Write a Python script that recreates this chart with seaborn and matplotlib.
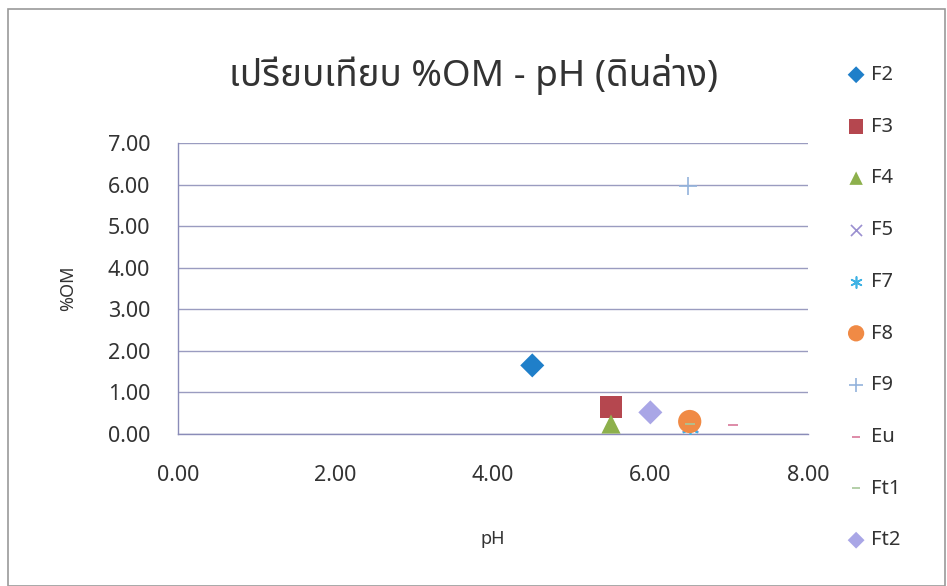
import numpy as np
import pandas as pd
import matplotlib
matplotlib.use("Agg")
import matplotlib.pyplot as plt
import seaborn as sns

# series (pH, %OM)
series = ["F2", "F3", "F4", "F5", "F7", "F8", "F9", "Eu", "Ft1", "Ft2"]
ph = [4.50, 5.50, 5.50, 6.50, 6.50, 6.50, 6.48, 7.05, 6.50, 6.00]
om = [1.65, 0.65, 0.24, 0.25, 0.15, 0.30, 5.97, 0.22, 0.25, 0.52]

colors = ["#1f7fc9", "#b5474f", "#8db04c", "#9a8fd0", "#3fb2e4", "#f08a45",
          "#93b3dc", "#d8789a", "#a7c79a", "#a9a6e6"]
markers = ["D", "s", "^", "x", (6, 2, 0), "o", "+", "_", "_", "D"]
sizes = [150, 230, 190, 130, 130, 280, 180, 60, 60, 150]

df = pd.DataFrame({"series": series, "pH": ph, "OM": om})

sns.set_style("white")
plt.rcParams["font.family"] = ["Noto Sans Thai", "Loma", "Garuda", "Tlwg Typo", "Norasi",
                               "Lato", "DejaVu Sans"]

fig = plt.figure(figsize=(9.47, 5.86), dpi=100)
ax = fig.add_axes([0.188, 0.2594, 0.665, 0.4966])

for s, c, m, sz in zip(series, colors, markers, sizes):
    sub = df[df["series"] == s]
    line_art = m in ["x", "+", "_", (6, 2, 0)]
    sns.scatterplot(data=sub, x="pH", y="OM", ax=ax, color=c, marker=m, s=sz,
                    label=s, linewidth=1.2 if line_art else 0,
                    edgecolor=c if line_art else "none", zorder=3)

ax.set_xlim(0, 8)
ax.set_ylim(0, 7)
ax.set_xticks(np.arange(0, 9, 2))
ax.set_yticks(np.arange(0, 8, 1))
ax.xaxis.set_major_formatter(matplotlib.ticker.FormatStrFormatter("%.2f"))
ax.yaxis.set_major_formatter(matplotlib.ticker.FormatStrFormatter("%.2f"))

axis_col = "#8a8cb8"
ax.grid(axis="y", color="#9a9cc0", linewidth=1.0)
ax.grid(axis="x", visible=False)
for side in ["top", "right"]:
    ax.spines[side].set_visible(False)
for side in ["left", "bottom"]:
    ax.spines[side].set_color(axis_col)
    ax.spines[side].set_linewidth(1.0)
ax.tick_params(axis="both", colors=axis_col, labelcolor="#333333", labelsize=15.5,
               length=8, width=1.0, direction="out")
ax.tick_params(axis="x", pad=14)
ax.tick_params(axis="y", pad=12)

ax.set_xlabel("pH", fontsize=13, color="#333333", labelpad=32)
ax.set_ylabel("%OM", fontsize=13, color="#333333", labelpad=22)

fig.text(0.50, 0.873, "เปรียบเทียบ %OM - pH (ดินล่าง)", ha="center", va="center",
         fontsize=26.5, color="#333333")

handles, labels = ax.get_legend_handles_labels()
ax.legend_.remove() if ax.legend_ else None
fig.legend(handles, labels, loc="upper left", bbox_to_anchor=(0.87, 0.92),
           frameon=False, fontsize=14.5, labelspacing=1.575, handletextpad=0.05,
           handlelength=1.4, markerscale=0.7, labelcolor="#333333")

# chart border
fig.patches.append(matplotlib.patches.Rectangle((0.008, 0.0), 0.99, 0.985,
                   transform=fig.transFigure, fill=False, edgecolor="#9a9a9a",
                   linewidth=1.2))

fig.savefig("out.png", dpi=100)
